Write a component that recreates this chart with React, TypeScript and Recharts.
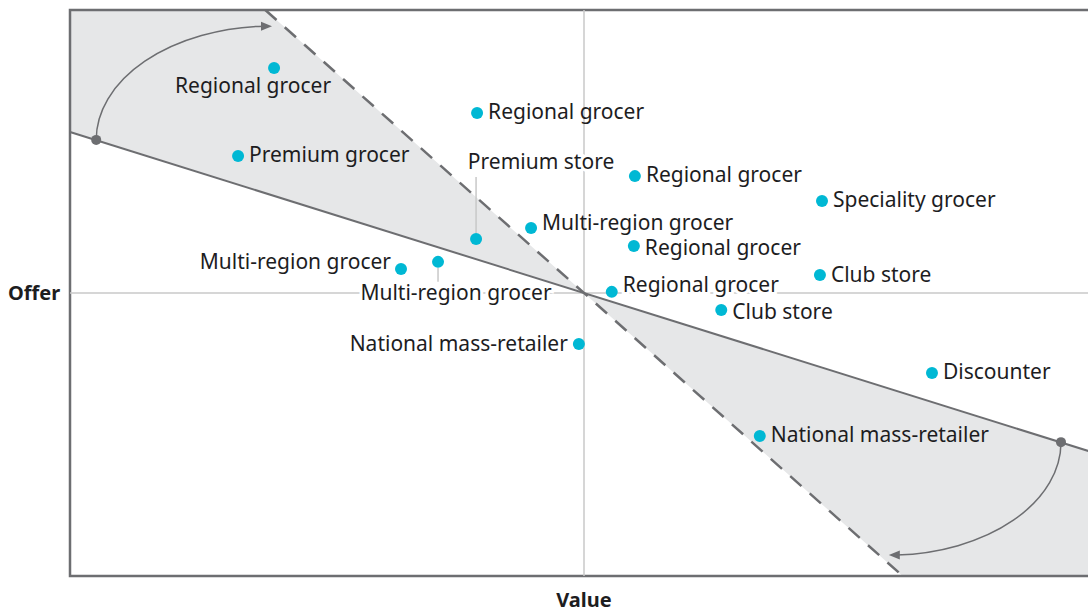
import React from 'react';
import {
  ComposedChart,
  Area,
  Scatter,
  XAxis,
  YAxis,
  ReferenceLine,
  ReferenceArea,
  ReferenceDot,
} from 'recharts';

const storeNames = [
  'Regional grocer',
  'Regional grocer',
  'Premium grocer',
  'Premium store',
  'Regional grocer',
  'Speciality grocer',
  'Multi-region grocer',
  'Regional grocer',
  'Multi-region grocer',
  'Multi-region grocer',
  'Club store',
  'Regional grocer',
  'Club store',
  'National mass-retailer',
  'Discounter',
  'National mass-retailer',
];
const valueScores = [-6.03, -2.08, -6.73, -2.1, 0.99, 4.63, -1.03, 0.97, -3.56, -2.84, 4.59, 0.54, 2.67, -0.1, 6.77, 3.42];
const offerScores = [7.95, 6.36, 4.84, 1.91, 4.13, 3.25, 2.3, 1.66, 0.85, 1.1, 0.64, 0.04, -0.6, -1.8, -2.83, -5.05];

// shaded wedges between the trade-off line and the dashed line
const bandX = [-10, -6.2, 0, 6.2, 10];
const bandLow = [5.69, 3.53, 0, -10, -10];
const bandHigh = [10, 10, 0, -3.53, -5.69];

const tradeOffLine = [{ x: -10, y: 5.69 }, { x: 10, y: -5.69 }];
const dashedLine = [{ x: -6.2, y: 10 }, { x: 6.2, y: -10 }];
const upperArc = [{ x: -9.49, y: 5.41 }, { x: -6.07, y: 9.43 }];
const lowerArc = [{ x: 9.28, y: -5.27 }, { x: 5.93, y: -9.26 }];

// label placement, pixels relative to the dot
const labelLayout = [
  { anchor: 'middle', dx: -21, dy: 17 },
  { anchor: 'start', dx: 11, dy: -2 },
  { anchor: 'start', dx: 11, dy: -2 },
  { anchor: 'middle', dx: 65, dy: -78, leader: [-62, -6], halo: true },
  { anchor: 'start', dx: 11, dy: -2 },
  { anchor: 'start', dx: 11, dy: -2 },
  { anchor: 'start', dx: 11, dy: -6 },
  { anchor: 'start', dx: 11, dy: 1 },
  { anchor: 'end', dx: -10, dy: -8 },
  { anchor: 'middle', dx: 18, dy: 30, leader: [6, 20], halo: true },
  { anchor: 'start', dx: 11, dy: -1 },
  { anchor: 'start', dx: 11, dy: -8, halo: true },
  { anchor: 'start', dx: 11, dy: 1 },
  { anchor: 'end', dx: -11, dy: -1 },
  { anchor: 'start', dx: 11, dy: -2 },
  { anchor: 'start', dx: 11, dy: -2 },
];

const bandData = bandX.map((x, i) => ({ x, band: [bandLow[i], bandHigh[i]] }));
const storeData = storeNames.map((name, i) => ({ x: valueScores[i], y: offerScores[i], name, idx: i }));

const FONT = '"Noto Sans", "Open Sans", sans-serif';
const GREY = '#6d6e71';

const StoreDot = (props: any) => {
  const { cx, cy, payload } = props;
  const l: any = labelLayout[payload.idx];
  return (
    <g>
      {l.leader && (
        <line x1={cx} x2={cx} y1={cy + l.leader[0]} y2={cy + l.leader[1]} stroke="#c8c8c8" strokeWidth={1.5} />
      )}
      <circle cx={cx} cy={cy} r={6} fill="#00b8d4" />
      <text
        x={cx + l.dx}
        y={cy + l.dy}
        textAnchor={l.anchor}
        dominantBaseline="central"
        fontFamily={FONT}
        fontSize={21}
        fill="#1d1d1f"
        stroke={l.halo ? '#fff' : 'none'}
        strokeWidth={l.halo ? 6 : 0}
        paintOrder="stroke"
      >
        {payload.name}
      </text>
    </g>
  );
};

const ArcArrow = (props: any) => {
  const { x1, y1, x2, y2 } = props;
  const rx = Math.abs(x2 - x1);
  const ry = Math.abs(y2 - y1);
  const dir = x2 > x1 ? 1 : -1;
  const ex = x2 - dir * 8;
  return (
    <g>
      <path d={`M${x1},${y1} A${rx},${ry} 0 0 1 ${ex},${y2}`} fill="none" stroke={GREY} strokeWidth={1.5} />
      <path d={`M${x2},${y2} L${x2 - dir * 11},${y2 - 4.5} L${x2 - dir * 11},${y2 + 4.5} Z`} fill={GREY} />
    </g>
  );
};

const App = () => (
  <div
    style={{
      position: 'absolute',
      left: 0,
      top: 0,
      width: 1088,
      height: 609,
      overflow: 'hidden',
      background: '#fff',
      fontFamily: FONT,
    }}
  >
    <ComposedChart width={1100} height={609} data={bandData} margin={{ top: 10, right: 2, bottom: 0, left: 0 }}>
      <XAxis
        type="number"
        dataKey="x"
        domain={[-10, 10]}
        allowDataOverflow
        tick={false}
        tickLine={false}
        axisLine={false}
        height={33}
        label={{
          value: 'Value',
          position: 'insideBottom',
          offset: 2,
          style: { fontFamily: FONT, fontSize: 20, fontWeight: 700, fill: '#1d1d1f' },
        }}
      />
      <YAxis
        type="number"
        dataKey="y"
        domain={[-10, 10]}
        allowDataOverflow
        tick={false}
        tickLine={false}
        axisLine={false}
        width={70}
        label={{
          value: 'Offer',
          position: 'insideLeft',
          offset: 8,
          style: { fontFamily: FONT, fontSize: 20, fontWeight: 700, fill: '#1d1d1f' },
        }}
      />
      <ReferenceLine x={0} stroke="#c8c8c8" strokeWidth={1.5} />
      <ReferenceLine y={0} stroke="#c8c8c8" strokeWidth={1.5} />
      <Area
        type="linear"
        dataKey="band"
        fill="#e6e7e8"
        fillOpacity={1}
        stroke="none"
        dot={false}
        activeDot={false}
        isAnimationActive={false}
      />
      <ReferenceLine segment={dashedLine} stroke={GREY} strokeWidth={2.5} strokeDasharray="15 11" />
      <ReferenceLine segment={tradeOffLine} stroke={GREY} strokeWidth={2} />
      <ReferenceLine segment={upperArc} shape={ArcArrow} />
      <ReferenceLine segment={lowerArc} shape={ArcArrow} />
      <ReferenceDot x={upperArc[0].x} y={upperArc[0].y} r={5} fill={GREY} stroke="none" />
      <ReferenceDot x={lowerArc[0].x} y={lowerArc[0].y} r={5} fill={GREY} stroke="none" />
      <Scatter data={storeData} shape={StoreDot} isAnimationActive={false} />
      <ReferenceArea x1={-10} x2={10} y1={-10} y2={10} fill="none" stroke={GREY} strokeWidth={2.5} />
    </ComposedChart>
  </div>
);

export default App;
